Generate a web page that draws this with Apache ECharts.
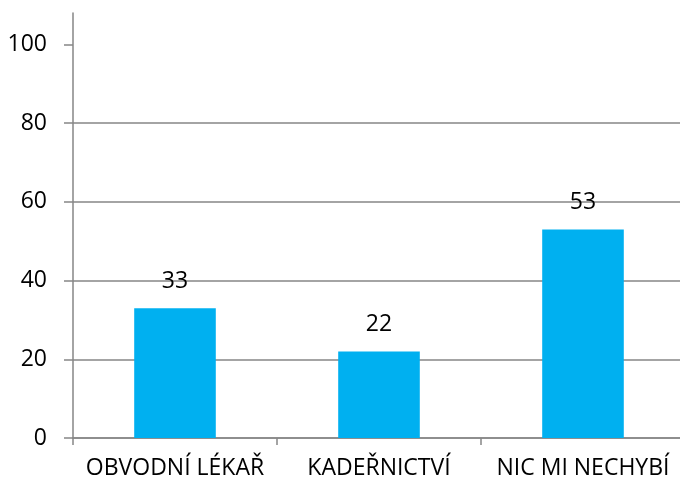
<!DOCTYPE html>
<html>
<head>
<meta charset="utf-8">
<script src="https://cdn.jsdelivr.net/npm/echarts@6/dist/echarts.min.js"></script>
<style>
  html, body { margin: 0; padding: 0; background: #fff; overflow: hidden; }
  /* plot area runs a few pixels past the right edge of the window, as in the original */
  #chart { width: 685px; height: 484px; }
</style>
</head>
<body>
<div id="chart"></div>
<script>
// chart data
var categories = ['OBVODNÍ LÉKAŘ', 'KADEŘNICTVÍ', 'NIC MI NECHYBÍ'];
var values = [33, 22, 53];
var yTicks = [0, 20, 40, 60, 80, 100];

var chart = echarts.init(document.getElementById('chart'));
var font = '"Open Sans", sans-serif';

chart.setOption({
    animation: false,
    grid: {
        left: 73,
        right: 0,
        top: 13,
        bottom: 46,
        containLabel: false
    },
    xAxis: {
        type: 'category',
        data: categories,
        axisLine: { lineStyle: { color: '#868686', width: 1.5 } },
        axisTick: { show: true, interval: 0, length: 7, lineStyle: { color: '#868686', width: 1.5 } },
        axisLabel: { interval: 0, hideOverlap: false, color: '#000', fontSize: 23, fontFamily: font, margin: 19 }
    },
    yAxis: {
        type: 'value',
        min: 0,
        max: 108,
        interval: 20,
        axisLine: { show: true, lineStyle: { color: '#868686', width: 1.5 } },
        axisTick: {
            show: true,
            length: 9,
            customValues: yTicks,
            lineStyle: { color: '#868686', width: 1.5 }
        },
        axisLabel: {
            color: '#000',
            fontSize: 23,
            fontFamily: font,
            margin: 26,
            customValues: yTicks
        },
        splitLine: {
            show: true,
            showMaxLine: false,
            lineStyle: { color: '#868686', width: 1.5 }
        }
    },
    series: [
        {
            type: 'bar',
            data: values,
            barWidth: '40%',
            itemStyle: { color: '#00B0F0' },
            label: {
                show: true,
                position: 'top',
                distance: 15,
                color: '#000',
                fontSize: 23,
                fontFamily: font
            }
        }
    ]
});
</script>
</body>
</html>
